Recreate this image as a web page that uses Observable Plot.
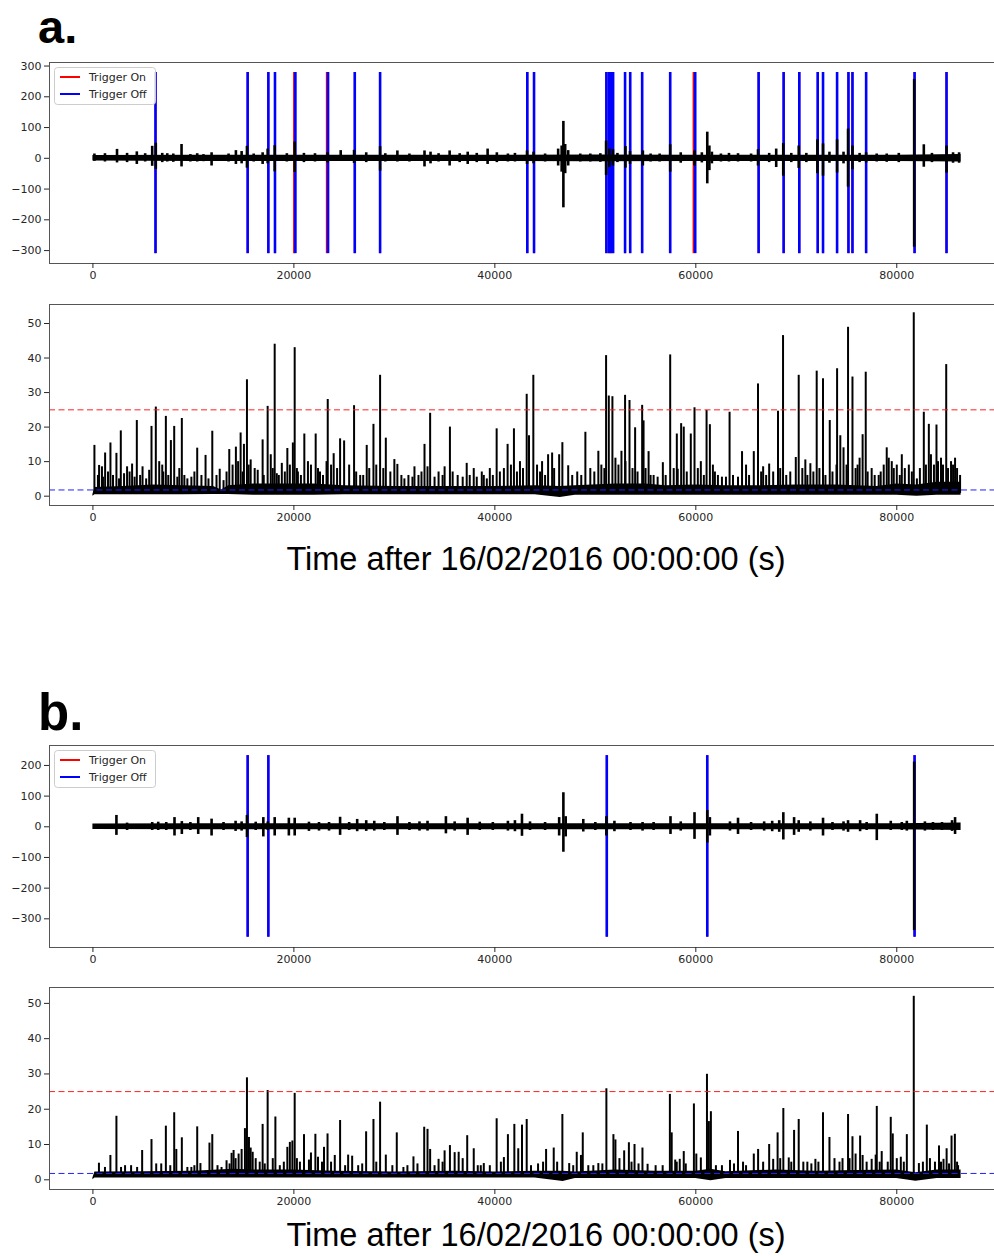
<!DOCTYPE html>
<html><head><meta charset="utf-8">
<script src="https://cdn.jsdelivr.net/npm/d3@7"></script>
<script src="https://cdn.jsdelivr.net/npm/@observablehq/plot@0.6"></script>
<style>
html,body{margin:0;padding:0;background:#fff;overflow:hidden;}
#fig{position:relative;width:994px;height:1256px;overflow:hidden;background:#fff;}
.panel{position:absolute;left:0;width:994px;overflow:hidden;}
.panel svg{max-width:none !important;display:block;}
</style>
</head><body>
<div id="fig"></div>
<script>
// ---------- data ----------
const xTicks = [0, 20000, 40000, 60000, 80000];
const yTicksSeisA = [-300, -200, -100, 0, 100, 200, 300];
const yTicksSeisB = [-300, -200, -100, 0, 100, 200];
const yTicksCft = [0, 10, 20, 30, 40, 50];
const legendLabels = ["Trigger On", "Trigger Off"];
const thrOn = 25;
const thrOff = 1.8;
const xLabel = "Time after 16/02/2016 00:00:00 (s)";
const panelLetters = ["a.", "b."];

// trigger line extents (previous y-limits of trace)
const trigExtentA = [-310, 279];
const trigExtentB = [-360, 232];

// trigger times (s)
const trigOnA = [6230, 15400, 17460, 18120, 20010, 23270, 26060, 28580, 43230, 43900, 51100, 51350, 51550, 51770, 52960, 53470, 54660, 57450, 59770, 66250, 68740, 70300, 72130, 72660, 74060, 75190, 75590, 76950, 81770, 84950];
const trigOffA = [6230, 15400, 17460, 18120, 20150, 23400, 26060, 28580, 43230, 43900, 51100, 51350, 51550, 51770, 52960, 53470, 54660, 57450, 59940, 66250, 68740, 70300, 72130, 72660, 74060, 75190, 75590, 76950, 81770, 84950];
const trigOnB = [15400, 17460, 51140, 61140, 81770];
const trigOffB = [15400, 17460, 51140, 61140, 81770];

// seismogram background noise band [t, lo, hi]
const seisBandA = [[0,-9,9],[10000,-10,10],[20000,-10,10],[30000,-10,10],[40000,-10,10],[50000,-11,11],[60000,-10,10],[70000,-10,10],[80000,-10,10],[86400,-12,12]];
const seisBandB = [[0,-9,9],[10000,-10,10],[20000,-10,10],[30000,-10,10],[40000,-10,10],[50000,-10,10],[60000,-10,10],[70000,-10,10],[80000,-10,10],[86400,-12,12]];

// seismogram bursts [t, max, min]
const seisA = [
 [150,14,-10],[1200,15,-12],[2400,29,-15],[3400,16,-14],[4370,21,-20],[5200,15,-12],[5900,39,-26],[6260,49,-36],
 [6900,16,-14],[7400,15,-12],[8000,14,-13],[8820,45,-28],[9700,12,-12],[10380,15,-12],[11000,12,-11],[11810,18,-25],
 [13500,14,-12],[14230,25,-20],[14800,22,-18],[15330,39,-32],[16000,14,-12],[16890,18,-20],[17390,30,-18],[18090,41,-44],
 [19300,15,-12],[20080,53,-46],[21000,16,-14],[22100,15,-12],[23350,18,-15],[24660,25,-10],[25990,26,-17],[27200,18,-14],
 [28580,38,-42],[29100,15,-12],[30300,24,-12],[31500,14,-12],[33000,24,-28],[33600,20,-18],[34400,15,-12],[35500,24,-25],
 [36500,15,-14],[37300,20,-20],[38200,16,-14],[39280,30,-20],[40200,18,-14],[41300,14,-12],[42000,16,-12],[43200,24,-20],
 [43850,20,-18],[45000,14,-12],[46300,30,-25],[46650,40,-45],[46820,120,-161],[47000,45,-50],[47300,25,-25],[48500,14,-12],
 [49500,14,-12],[50500,15,-13],[51070,56,-56],[51400,30,-30],[51750,28,-25],[52200,16,-14],[53000,38,-32],[53450,22,-20],
 [54730,24,-25],[55500,14,-12],[56400,14,-12],[57450,44,-45],[58500,18,-16],[59870,24,-25],[60600,18,-15],[61140,85,-83],
 [61350,40,-40],[61600,20,-18],[62500,14,-12],[63300,16,-12],[64200,15,-12],[65500,14,-12],[66190,28,-25],[67300,16,-14],
 [68000,30,-30],[68700,48,-58],[69500,16,-14],[70240,40,-33],[71000,16,-14],[72100,60,-50],[72660,47,-58],[73300,20,-16],
 [74060,60,-48],[74700,20,-18],[75150,95,-94],[75590,40,-37],[76300,16,-14],[76950,18,-15],[78000,14,-12],[79000,14,-13],
 [80200,16,-14],[81730,256,-289],[82690,44,-29],[83500,16,-14],[84950,40,-48],[85600,18,-16],[86200,18,-16]
];
const seisB = [
 [2340,37,-28],[3400,12,-12],[5900,14,-12],[6500,15,-12],[7300,14,-12],[8120,30,-30],[8850,17,-25],[9700,14,-12],
 [10480,30,-25],[11810,25,-30],[13000,14,-12],[14200,18,-15],[14800,16,-14],[15330,37,-35],[16200,15,-12],[16960,30,-33],
 [17400,16,-12],[18090,30,-30],[19500,28,-30],[20080,28,-30],[21500,15,-15],[22500,14,-14],[23500,14,-14],[24600,31,-28],
 [25500,14,-12],[26300,24,-16],[27200,20,-15],[28000,18,-14],[29000,14,-12],[30310,33,-28],[31500,14,-12],[32500,16,-14],
 [33300,18,-14],[35130,33,-23],[36000,16,-14],[37290,28,-28],[38500,15,-12],[39800,14,-12],[41300,18,-14],[42000,20,-16],
 [42700,41,-31],[43500,16,-12],[45000,14,-12],[46400,30,-30],[46820,111,-83],[47050,33,-33],[48800,24,-17],[50000,14,-12],
 [51100,33,-30],[51900,18,-16],[53500,14,-12],[54700,14,-14],[55800,14,-12],[57480,33,-25],[58500,16,-14],[59870,46,-41],
 [61140,53,-53],[61400,30,-30],[63400,16,-14],[64200,28,-25],[65500,14,-12],[66800,16,-14],[67600,18,-16],[68300,20,-18],
 [68710,46,-43],[69780,30,-28],[70240,20,-18],[71400,16,-14],[72660,28,-30],[73600,14,-12],[74700,16,-14],[75150,20,-18],
 [76350,20,-16],[77000,14,-12],[78010,41,-45],[79400,18,-12],[80500,14,-12],[81000,18,-14],[81730,211,-338],[82800,16,-14],
 [83600,14,-12],[84500,14,-12],[85500,20,-15],[85800,30,-25]
];

// STA/LTA characteristic function: dense base band [t, lo, hi]
const cftBandA = [[0,0,0.5],[200,0.4,2.5],[3000,0.4,2.8],[6000,0.4,3.2],[9000,0.4,3],[12000,0.5,2.8],[12800,0.5,1.8],[13500,0.5,3],
 [16000,0.3,3.5],[19000,0.3,3.5],[22000,0.3,3.5],[25000,0.4,3],[30000,0.4,2.8],[35000,0.4,2.8],[40000,0.4,2.8],[44000,0.4,3],
 [46500,-0.4,2.8],[48000,0.3,3],[52000,0.3,3.5],[55000,0.3,3.5],[57000,0.3,3],[60000,0.3,3.2],[63000,0.3,3],[66000,0.3,3],
 [70000,0.3,3.2],[74000,0.3,3.2],[78000,0.3,2.8],[80000,0.3,3.5],[82000,0,3.2],[84000,0.3,4],[86400,0.3,4]];
const cftBandB = [[0,0,0.5],[200,0.5,2.2],[5000,0.5,2.3],[10000,0.5,2.4],[14000,0.5,3],[16000,0.5,2.8],[20000,0.5,2.8],[24000,0.5,2.4],
 [30000,0.5,2.2],[36000,0.5,2.4],[40000,0.5,2.2],[44000,0.5,2.4],[46800,-0.5,2.4],[48000,0.4,2.2],[52000,0.4,2.8],[56000,0.4,2.4],
 [60000,0.4,2.4],[61500,-0.3,3],[63000,0.4,2.3],[68000,0.4,2.8],[72000,0.4,2.4],[76000,0.4,2.6],[80000,0.4,2.8],[81900,-0.4,2],
 [84000,0.4,2.8],[86400,0.4,2.8]];
const cftSpikeBase = 0.8;

// STA/LTA spikes [t, value]
const cftA = [
 [150,14.7],[615,8.9],[900,8.5],[1215,12.5],[1745,15.4],[2340,12.4],[2775,18.9],[3400,8.5],[3900,9.3],[4370,21.9],[4940,8.5],
 [5830,20.2],[6260,25.8],[6600,10],[7260,23.1],[7760,16.1],[8090,20.2],[8850,22.5],[9400,5],[10380,13.9],[10800,6],[11210,11.8],
 [11880,18.8],[12620,7.8],[13570,13.5],[14230,14.2],[14700,18.3],[15030,15],[15330,33.7],[15700,10.5],[16890,16.3],[17390,26],
 [17700,12],[18090,44],[18500,6],[18800,9.5],[19350,13.8],[19900,15.4],[20080,43],[20400,7],[21040,18],[21700,9],[22170,18],
 [22600,7],[23250,10],[23370,28],[23960,12.3],[24600,16.6],[25000,16],[25990,26.2],[26600,6],[27250,14.7],[27920,20.8],
 [28580,35],[29150,16.8],[30000,10.6],[30300,9.2],[31000,5],[32000,8.5],[33000,15],[33300,8.5],[33560,24],[34400,7],[35000,8.5],
 [35530,20],[37200,9.5],[37900,8],[38700,7],[39500,8],[40180,19.5],[41270,15],[41900,19.5],[42500,10],[43170,29.5],[43400,17.5],
 [43830,35],[44700,10],[45300,12],[45700,12.5],[46400,12],[46720,15.5],[47300,8.8],[49010,18.5],[49500,8],[50300,13],[51070,40.7],
 [51340,29],[51700,28.8],[52000,11],[52600,13],[52960,29.2],[53400,27.7],[53960,19.8],[54660,26.3],[54800,21.8],[55300,12.9],
 [55800,6],[56720,9.7],[57450,40.9],[58110,18],[58200,7.8],[58540,21],[58800,20],[59500,18],[59870,25.6],[60500,10],[61070,24.8],
 [61400,20.7],[61900,7],[63360,24.3],[64600,12.9],[65000,9],[65770,12.9],[66190,32.5],[66700,8.5],[67300,9.3],[68180,24.6],
 [68680,46.5],[69950,11.2],[70240,35],[70900,10.5],[71400,9.4],[72030,36.2],[72660,34],[73330,21.9],[74060,36.9],[74380,17.5],
 [74700,14],[75150,48.9],[75590,34.5],[76300,11],[76600,17.8],[76910,35.9],[77500,8],[78400,7],[79000,14],[79500,10],[80500,12],
 [81690,53.1],[82690,24.3],[83190,20.8],[83950,20.6],[84400,11],[84920,38.1],[85400,10],[85800,11],[86300,6],
 // smaller spikes of the dense forest
 [500,6],[1000,5.5],[1500,7],[2000,6],[2600,5],[3100,6.5],[3650,7],[4150,5.5],[4700,6],[5300,5],[5600,7.5],[6900,9],[7000,7],
 [7500,6],[8400,5.5],[8600,8],[9100,6],[9800,5.5],[10100,7],[11500,5],[12300,6],[13000,4.5],[13300,7],[13900,9],[14450,10],
 [14900,7],[15500,9],[16100,8],[16400,7.5],[17000,6],[17900,8],[18300,6.5],[19100,7],[19600,9],[20300,8],[20700,6],[21400,10],
 [22400,8],[22900,6],[23700,9],[24300,8],[25500,9],[26200,7],[26900,6],[27500,8],[28200,9],[28900,8],[29600,7],[30700,6],
 [31400,6],[31800,5.5],[32400,6],[32700,7],[34000,5.5],[34800,6],[35800,7],[36300,6],[36800,5.5],[37500,6],[38200,5.5],
 [38900,6],[39200,5],[39800,6],[40500,7],[40900,8],[41600,9],[42200,7],[42800,8],[44200,9],[44500,7],[45000,6],[45900,8],
 [47700,6],[48200,7],[48600,6],[49900,7],[50600,9],[50900,8],[52300,9],[53000,10],[53700,8],[54200,7],[55000,8],[55500,6],
 [56200,5.5],[57000,6],[57800,8],[59100,7],[60200,8],[60800,6],[61700,9],[62200,6],[62600,5.5],[63000,5.5],[63700,6],
 [64200,5.5],[65300,6],[66500,7],[67000,6],[67700,7],[68400,8],[69000,6],[69400,7],[70600,8],[71100,6],[71700,7],[72300,8],
 [72900,6],[73600,7],[74000,9],[75000,9],[75900,8],[76100,9],[77100,7],[77800,6],[78200,6],[78700,9],[79200,11],[79700,8],
 [80000,9],[80300,6],[80800,8],[81200,9],[81500,7],[82000,5],[82300,8],[82900,9],[83400,12],[83700,9],[84100,10],[84600,9],
 [85100,8],[85600,9],[86000,8]
];
const cftB = [
 [600,4.7],[1200,3.5],[1740,6.9],[2340,18],[3200,4],[4900,8.3],[5830,11.4],[6300,4.5],[7260,15.2],[7700,4],[8090,19],[8300,8.6],
 [8850,11.9],[9400,3.5],[10380,15],[10700,4.6],[11600,10.4],[11880,12.8],[13300,5.4],[13800,7.5],[14000,8.3],[14500,7.3],[14800,8.6],
 [15130,14.5],[15330,28.9],[15530,12],[15900,7.8],[16890,15.7],[17390,25.3],[17900,6],[18160,17.8],[19350,9.2],[19600,10.6],
 [19850,11],[20080,24.5],[20600,5],[21010,12.8],[21500,5.6],[21700,7.6],[22140,12.9],[22400,6.4],[23000,9.2],[23350,13],
 [24070,6.9],[24600,16.8],[25400,7],[25800,6.7],[27190,13.6],[27920,17.1],[28580,22],[29150,7],[30240,13.3],[30900,3.5],
 [31900,6.5],[32970,14.9],[33300,14.3],[33560,8.6],[34400,5.8],[35000,8.2],[35530,9.7],[36000,7.7],[36400,7.8],[37250,12.5],
 [37900,8.8],[38300,4],[38900,4.6],[40180,17.3],[40900,6.3],[41300,12.8],[41940,15.7],[42330,8.8],[42700,15.5],[43170,17.1],
 [45100,8.6],[45860,9],[46720,18.5],[47400,4.6],[48150,7.8],[48570,6.9],[48750,13.3],[50300,4.6],[51100,25.8],[51800,12.8],
 [52000,11.3],[52870,8.2],[53340,10.5],[53900,10],[54690,9],[55200,4.4],[57420,24.2],[57600,13.3],[57950,5.6],[58400,5.8],
 [58800,8],[59810,21.5],[60050,7.3],[60500,6.2],[61110,29.9],[61300,16.5],[61500,19.3],[63400,5.5],[64200,13.7],[64700,5],
 [65770,7.3],[66200,8.6],[67300,10],[67700,5.8],[68140,13.3],[68710,20.2],[69250,6.2],[69780,14],[70240,17.1],[71100,5],
 [71900,5.8],[72660,19],[73300,12],[74300,5],[75150,18.5],[75590,12.2],[75900,7.3],[76350,12.4],[76600,6.9],[77500,5.8],
 [78010,20.8],[78500,8],[79400,17.7],[79600,13],[80400,6.4],[81000,12.8],[81690,52],[82200,4.6],[82990,15.5],[84200,9.6],
 [84650,5.8],[84960,8.8],[85450,12.4],[85780,12.9],[86100,4],
 // smaller spikes
 [2800,3.5],[3800,4],[4400,3.5],[6800,4.5],[9800,3.5],[10100,4],[12400,4],[12800,3.5],[13600,4.5],[14200,6],[15700,9],
 [16200,6],[16600,5],[17100,4.5],[18600,4],[19000,5],[20300,6],[22800,5],[23700,5],[25100,4],[26400,4],[26800,4.5],
 [28200,5],[29800,4],[31300,4],[32300,4.5],[34000,4],[34800,5],[36800,6],[38600,4],[39500,4],[40600,5],[43600,4],
 [44300,4.5],[44800,5],[46200,5],[47800,4],[49300,4],[49800,4],[50700,4.5],[52400,6],[53600,5],[54300,4.5],[56000,4],
 [56700,4],[58100,5],[59000,4.5],[62000,4],[62600,4],[63800,4.5],[65000,4],[66700,5],[68400,6],[69500,5],[70700,5],
 [71500,4.5],[72200,5],[73800,6],[74600,6],[75300,6],[77000,5],[77900,7],[78300,5],[79100,5],[80000,6],[80700,5],
 [82600,5],[83300,6],[83800,5],[84400,5],[85200,4.5],[86000,5]
];

// ---------- drawing ----------
const X_DOMAIN = [-4320, 90720];
const fig = document.getElementById("fig");

function panel(top, height, frameH, yDomain, yTicks, marks) {
  const mt = 10;
  const chart = Plot.plot({
    width: 994, height,
    marginLeft: 49, marginRight: -10, marginTop: mt, marginBottom: height - mt - frameH,
    x: {domain: X_DOMAIN},
    y: {domain: yDomain},
    style: {fontFamily: "DejaVu Sans, sans-serif", fontSize: "11px", color: "#262626", background: "transparent"},
    marks: [
      ...marks,
      Plot.frame({stroke: "#555", strokeWidth: 1}),
      Plot.axisX({ticks: xTicks, tickFormat: "d", tickSize: 5, tickPadding: 3, label: null, fontSize: 11}),
      Plot.axisY({ticks: yTicks, tickFormat: "d", tickSize: 5, tickPadding: 3, label: null, fontSize: 11})
    ]
  });
  const div = document.createElement("div");
  div.className = "panel";
  div.style.top = top + "px";
  div.style.height = height + "px";
  div.appendChild(chart);
  fig.appendChild(div);
}

function seisMarks(band, events, onT, offT, ext) {
  return [
    Plot.ruleX(onT, {x: d => d, y1: ext[0], y2: ext[1], stroke: "#ff0000", strokeWidth: 1.8}),
    Plot.ruleX(offT, {x: d => d, y1: ext[0], y2: ext[1], stroke: "#0000ff", strokeWidth: 2.6}),
    Plot.areaY(band, {x: d => d[0], y1: d => d[1], y2: d => d[2], fill: "black"}),
    Plot.ruleX(events, {x: d => d[0], y1: d => d[2], y2: d => d[1], stroke: "black", strokeWidth: 2.6})
  ];
}
function cftMarks(band, spikes) {
  return [
    Plot.areaY(band, {x: d => d[0], y1: d => d[1], y2: d => d[2], fill: "black"}),
    Plot.ruleX(spikes, {x: d => d[0], y1: cftSpikeBase, y2: d => d[1], stroke: "black", strokeWidth: 2}),
    Plot.ruleY([thrOn], {stroke: "#ff2020", strokeWidth: 1, strokeDasharray: "6,3.5"}),
    Plot.ruleY([thrOff], {stroke: "#2020ff", strokeWidth: 1, strokeDasharray: "6,3.5"})
  ];
}

panel(52, 241, 201, [-342, 311.5], yTicksSeisA, seisMarks(seisBandA, seisA, trigOnA, trigOffA, trigExtentA));
panel(294, 241, 201, [-2.7, 55.5], yTicksCft, cftMarks(cftBandA, cftA));
panel(735, 242, 202, [-393.5, 265], yTicksSeisB, seisMarks(seisBandB, seisB, trigOnB, trigOffB, trigExtentB));
panel(977, 242, 202, [-2.75, 54.5], yTicksCft, cftMarks(cftBandB, cftB));

// overlay: panel letters, x labels, legends
const ov = d3.select(fig).append("svg")
  .attr("width", 994).attr("height", 1256)
  .style("position", "absolute").style("left", 0).style("top", 0);

[[43, 47], [730, 51]].forEach(([y, fs], i) => {
  ov.append("text").attr("x", 38).attr("y", y)
    .attr("font-family", "Liberation Sans, Arial, sans-serif").attr("font-weight", "bold")
    .attr("font-size", fs).attr("fill", "black").text(panelLetters[i]);
});
[570, 1246].forEach(y => {
  ov.append("text").attr("x", 536).attr("y", y).attr("text-anchor", "middle")
    .attr("font-family", "Liberation Sans, Arial, sans-serif").attr("font-size", 32.5)
    .attr("fill", "black").text(xLabel);
});
const legendColors = ["#ff0000", "#0000ff"];
[67, 750].forEach(top => {
  const g = ov.append("g");
  g.append("rect").attr("x", 54.5).attr("y", top + 0.5).attr("width", 101).attr("height", 37)
    .attr("rx", 3).attr("fill", "white").attr("fill-opacity", 0.85).attr("stroke", "#cccccc");
  legendLabels.forEach((lab, i) => {
    const cy = top + 10 + i * 17;
    g.append("line").attr("x1", 60).attr("x2", 80).attr("y1", cy).attr("y2", cy)
      .attr("stroke", legendColors[i]).attr("stroke-width", 2);
    g.append("text").attr("x", 89).attr("y", cy + 4)
      .attr("font-family", "DejaVu Sans, sans-serif").attr("font-size", 11).attr("fill", "#262626").text(lab);
  });
});
</script>
</body></html>
